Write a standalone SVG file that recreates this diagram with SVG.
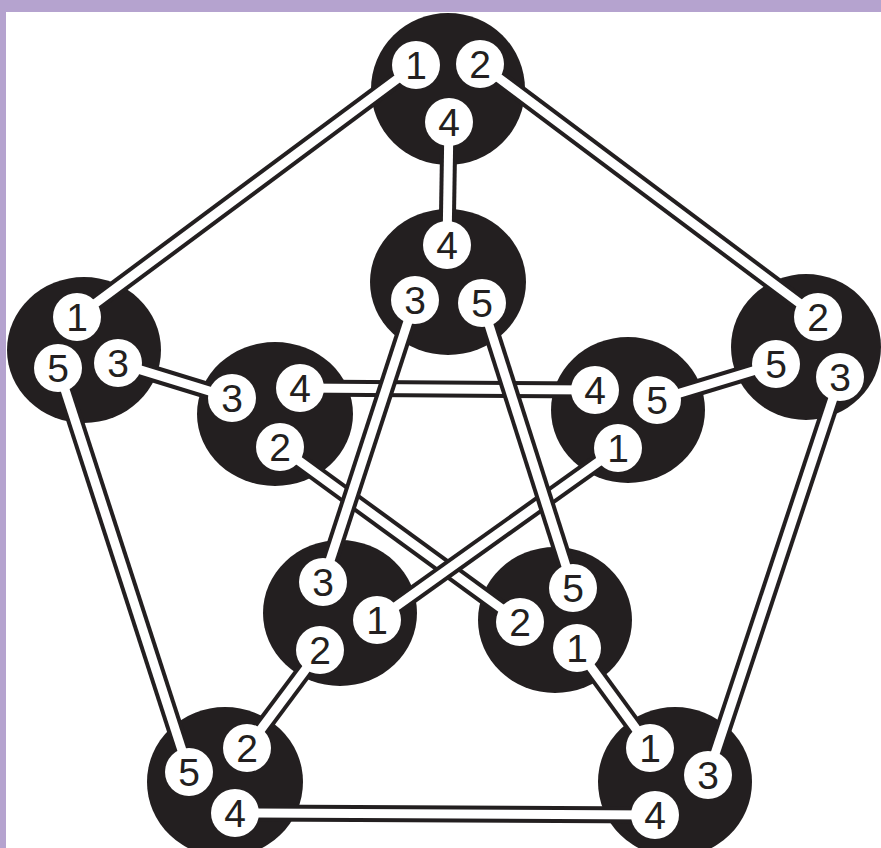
<svg xmlns="http://www.w3.org/2000/svg" width="881" height="848" viewBox="0 0 881 848">
<style>
.big{fill:#231f20}
.sm{fill:#fff}
.lb{font-family:"Liberation Sans",Arial,sans-serif;font-size:39px;fill:#231f20;text-anchor:middle}
.co{stroke:#231f20;stroke-width:17;fill:none;stroke-linecap:butt}
.ci{stroke:#fff;stroke-width:9;fill:none;stroke-linecap:butt}
</style>
<rect x="0" y="0" width="881" height="848" fill="#fff"/>
<rect x="0" y="0" width="881" height="12" fill="#b5a3cf"/>
<rect x="0" y="0" width="6" height="848" fill="#b5a3cf"/>
<g id="bigs">
<ellipse class="big" cx="448" cy="89" rx="77" ry="76"/>
<ellipse class="big" cx="84" cy="350" rx="77" ry="73"/>
<ellipse class="big" cx="806" cy="347" rx="75" ry="73"/>
<ellipse class="big" cx="275" cy="414" rx="78" ry="72"/>
<ellipse class="big" cx="628" cy="410" rx="77" ry="73"/>
<ellipse class="big" cx="448" cy="282" rx="78" ry="73"/>
<ellipse class="big" cx="340" cy="613" rx="77" ry="73"/>
<ellipse class="big" cx="555" cy="620" rx="77" ry="73"/>
<ellipse class="big" cx="225" cy="782" rx="78" ry="75"/>
<ellipse class="big" cx="675" cy="782" rx="77" ry="75"/>
</g>
<g id="connectors">
<g><line class="co" x1="416" y1="65" x2="77" y2="317"/><line class="ci" x1="416" y1="65" x2="77" y2="317"/></g>
<g><line class="co" x1="480" y1="64" x2="818" y2="317"/><line class="ci" x1="480" y1="64" x2="818" y2="317"/></g>
<g><line class="co" x1="449" y1="122" x2="447" y2="245"/><line class="ci" x1="449" y1="122" x2="447" y2="245"/></g>
<g><line class="co" x1="118" y1="363" x2="232" y2="398"/><line class="ci" x1="118" y1="363" x2="232" y2="398"/></g>
<g><line class="co" x1="58" y1="368" x2="189" y2="772"/><line class="ci" x1="58" y1="368" x2="189" y2="772"/></g>
<g><line class="co" x1="776" y1="364" x2="657" y2="400"/><line class="ci" x1="776" y1="364" x2="657" y2="400"/></g>
<g><line class="co" x1="840" y1="377" x2="708" y2="775"/><line class="ci" x1="840" y1="377" x2="708" y2="775"/></g>
<g><line class="co" x1="300" y1="388" x2="595" y2="390"/><line class="ci" x1="300" y1="388" x2="595" y2="390"/></g>
<g><line class="co" x1="280" y1="447" x2="520" y2="622"/><line class="ci" x1="280" y1="447" x2="520" y2="622"/></g>
<g><line class="co" x1="618" y1="448" x2="377" y2="620"/><line class="ci" x1="618" y1="448" x2="377" y2="620"/></g>
<g><line class="co" x1="415" y1="300" x2="323" y2="582"/><line class="ci" x1="415" y1="300" x2="323" y2="582"/></g>
<g><line class="co" x1="482" y1="303" x2="573" y2="588"/><line class="ci" x1="482" y1="303" x2="573" y2="588"/></g>
<g><line class="co" x1="320" y1="650" x2="247" y2="748"/><line class="ci" x1="320" y1="650" x2="247" y2="748"/></g>
<g><line class="co" x1="577" y1="648" x2="650" y2="748"/><line class="ci" x1="577" y1="648" x2="650" y2="748"/></g>
<g><line class="co" x1="235" y1="813" x2="655" y2="815"/><line class="ci" x1="235" y1="813" x2="655" y2="815"/></g>
</g>
<g id="n-top"><circle class="sm" cx="416" cy="65" r="24"/><text class="lb" x="416" y="79">1</text><circle class="sm" cx="480" cy="64" r="24"/><text class="lb" x="480" y="78">2</text><circle class="sm" cx="449" cy="122" r="24"/><text class="lb" x="449" y="136">4</text></g>
<g id="n-left"><circle class="sm" cx="77" cy="317" r="24"/><text class="lb" x="77" y="331">1</text><circle class="sm" cx="58" cy="368" r="24"/><text class="lb" x="58" y="382">5</text><circle class="sm" cx="118" cy="363" r="24"/><text class="lb" x="118" y="377">3</text></g>
<g id="n-right"><circle class="sm" cx="818" cy="317" r="24"/><text class="lb" x="818" y="331">2</text><circle class="sm" cx="776" cy="364" r="24"/><text class="lb" x="776" y="378">5</text><circle class="sm" cx="840" cy="377" r="24"/><text class="lb" x="840" y="391">3</text></g>
<g id="n-innerL"><circle class="sm" cx="232" cy="398" r="24"/><text class="lb" x="232" y="412">3</text><circle class="sm" cx="300" cy="388" r="24"/><text class="lb" x="300" y="402">4</text><circle class="sm" cx="280" cy="447" r="24"/><text class="lb" x="280" y="461">2</text></g>
<g id="n-innerR"><circle class="sm" cx="595" cy="390" r="24"/><text class="lb" x="595" y="404">4</text><circle class="sm" cx="657" cy="400" r="24"/><text class="lb" x="657" y="414">5</text><circle class="sm" cx="618" cy="448" r="24"/><text class="lb" x="618" y="462">1</text></g>
<g id="n-center"><circle class="sm" cx="447" cy="245" r="24"/><text class="lb" x="447" y="259">4</text><circle class="sm" cx="415" cy="300" r="24"/><text class="lb" x="415" y="314">3</text><circle class="sm" cx="482" cy="303" r="24"/><text class="lb" x="482" y="317">5</text></g>
<g id="n-lowerL"><circle class="sm" cx="323" cy="582" r="24"/><text class="lb" x="323" y="596">3</text><circle class="sm" cx="377" cy="620" r="24"/><text class="lb" x="377" y="634">1</text><circle class="sm" cx="320" cy="650" r="24"/><text class="lb" x="320" y="664">2</text></g>
<g id="n-lowerR"><circle class="sm" cx="573" cy="588" r="24"/><text class="lb" x="573" y="602">5</text><circle class="sm" cx="520" cy="622" r="24"/><text class="lb" x="520" y="636">2</text><circle class="sm" cx="577" cy="648" r="24"/><text class="lb" x="577" y="662">1</text></g>
<g id="n-botL"><circle class="sm" cx="189" cy="772" r="24"/><text class="lb" x="189" y="786">5</text><circle class="sm" cx="247" cy="748" r="24"/><text class="lb" x="247" y="762">2</text><circle class="sm" cx="235" cy="813" r="24"/><text class="lb" x="235" y="827">4</text></g>
<g id="n-botR"><circle class="sm" cx="650" cy="748" r="24"/><text class="lb" x="650" y="762">1</text><circle class="sm" cx="708" cy="775" r="24"/><text class="lb" x="708" y="789">3</text><circle class="sm" cx="655" cy="815" r="24"/><text class="lb" x="655" y="829">4</text></g>
</svg>
